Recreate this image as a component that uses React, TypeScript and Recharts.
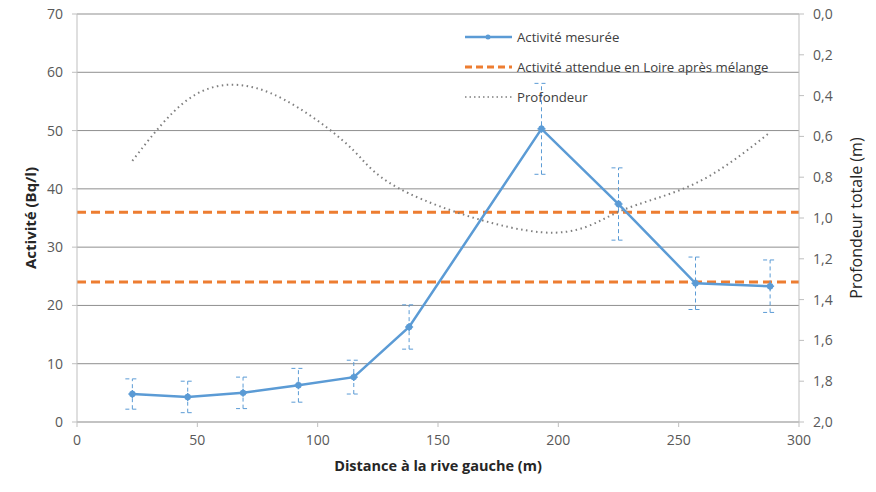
import { ComposedChart, Line, XAxis, YAxis, CartesianGrid, ReferenceLine, ErrorBar, Label } from "recharts";

const FONT = "'Open Sans', 'Noto Sans', sans-serif";

// distance from left bank (m)
const distances = [23, 46, 69, 92, 115, 138, 193, 225, 257, 288];
// measured activity (Bq/l) and its uncertainty
const activity = [4.8, 4.3, 5.0, 6.3, 7.7, 16.3, 50.3, 37.4, 23.8, 23.3];
const activityError = [2.6, 2.7, 2.7, 2.9, 2.9, 3.8, 7.8, 6.2, 4.5, 4.5];
// total depth (m)
const depth = [0.72, 0.42, 0.35, 0.46, 0.67, 0.88, 1.07, 0.97, 0.83, 0.58];
// expected activity in the Loire after mixing (Bq/l)
const expected = [36, 24];

const xTicks = [0, 50, 100, 150, 200, 250, 300];
const leftTicks = [0, 10, 20, 30, 40, 50, 60, 70];
const rightTicks = [0, 0.2, 0.4, 0.6, 0.8, 1.0, 1.2, 1.4, 1.6, 1.8, 2.0];

const rows = distances.map((d, i) => ({
  distance: d,
  activity: activity[i],
  err: activityError[i],
  depth: depth[i],
}));

const BLUE = "#5B9BD5";
const ORANGE = "#ED7D31";
const GREY = "#7F7F7F";

const tickStyle = { fontSize: 14, fill: "#595959", fontFamily: FONT };

const Marker = (props: any) => {
  const { cx, cy } = props;
  if (cx == null || cy == null) return null;
  return (
    <g>
      <circle cx={cx} cy={cy} r={3.2} fill={BLUE} />
      <line x1={cx - 4} x2={cx + 4} y1={cy} y2={cy} stroke={BLUE} strokeWidth={1.5} />
      <line x1={cx} x2={cx} y1={cy - 4} y2={cy + 4} stroke={BLUE} strokeWidth={1.5} />
    </g>
  );
};

const legendItems = [
  { label: "Activité mesurée", color: BLUE, dash: undefined, width: 2.5 },
  { label: "Activité attendue en Loire après mélange", color: ORANGE, dash: "7 4", width: 3 },
  { label: "Profondeur", color: GREY, dash: "1.5 3", width: 1.5 },
];

export default function App() {
  return (
    <div style={{ position: "absolute", left: 0, top: 0, width: 876, height: 492, background: "#fff" }}>
      <ComposedChart
        width={876}
        height={492}
        data={rows}
        margin={{ top: 14, right: 0, bottom: 0, left: 0 }}
      >
        <CartesianGrid vertical={false} stroke="#8f8f8f" yAxisId="left" />
        <XAxis
          dataKey="distance"
          type="number"
          domain={[0, 300]}
          ticks={xTicks}
          height={70}
          tick={tickStyle}
          tickLine={{ stroke: "#bfbfbf" }}
          axisLine={{ stroke: "#bfbfbf" }}
          tickSize={5}
          tickMargin={8}
        >
          <Label
            value="Distance à la rive gauche (m)"
            position="center"
            dy={9}
            style={{ fontSize: 14.5, fontWeight: 700, fill: "#262626", fontFamily: FONT }}
          />
        </XAxis>
        <YAxis
          yAxisId="left"
          domain={[0, 70]}
          ticks={leftTicks}
          width={77}
          tick={tickStyle}
          tickLine={{ stroke: "#bfbfbf" }}
          axisLine={{ stroke: "#bfbfbf" }}
          tickSize={5}
          tickMargin={9}
        >
          <Label
            value="Activité (Bq/l)"
            angle={-90}
            position="center"
            dx={-8}
            style={{ fontSize: 15, fontWeight: 700, fill: "#262626", fontFamily: FONT, textAnchor: "middle" }}
          />
        </YAxis>
        <YAxis
          yAxisId="right"
          orientation="right"
          domain={[0, 2]}
          reversed
          ticks={rightTicks}
          width={77}
          tick={tickStyle}
          tickFormatter={(v: number) => v.toFixed(1).replace(".", ",")}
          tickLine={{ stroke: "#bfbfbf" }}
          axisLine={{ stroke: "#bfbfbf" }}
          tickSize={5}
          tickMargin={9}
        >
          <Label
            value="Profondeur totale (m)"
            angle={-90}
            position="center"
            dx={19}
            style={{ fontSize: 16, fill: "#262626", fontFamily: FONT, textAnchor: "middle" }}
          />
        </YAxis>
        {expected.map((v) => (
          <ReferenceLine
            key={v}
            yAxisId="left"
            y={v}
            stroke={ORANGE}
            strokeWidth={3}
            strokeDasharray="9 5"
          />
        ))}
        <Line
          yAxisId="right"
          dataKey="depth"
          type="natural"
          stroke={GREY}
          strokeWidth={2}
          strokeDasharray="1.5 3.5"
          dot={false}
          isAnimationActive={false}
        />
        <Line
          yAxisId="left"
          dataKey="activity"
          type="linear"
          stroke={BLUE}
          strokeWidth={2.5}
          dot={<Marker />}
          activeDot={false}
          isAnimationActive={false}
        >
          <ErrorBar
            dataKey="err"
            direction="y"
            width={7}
            stroke={BLUE}
            strokeWidth={1}
            strokeDasharray="4 3"
          />
        </Line>
      </ComposedChart>
      <div
        style={{
          position: "absolute",
          left: 463,
          top: 22,
          fontFamily: FONT,
          fontSize: 13.2,
          color: "#404040",
        }}
      >
        {legendItems.map((it) => (
          <div key={it.label} style={{ display: "flex", alignItems: "center", height: 30 }}>
            <svg width={52} height={10} style={{ marginRight: 2 }}>
              <line
                x1={2}
                x2={49}
                y1={5}
                y2={5}
                stroke={it.color}
                strokeWidth={it.width}
                strokeDasharray={it.dash}
              />
              {it.dash === undefined && <circle cx={25} cy={5} r={2.5} fill={it.color} />}
            </svg>
            <span>{it.label}</span>
          </div>
        ))}
      </div>
    </div>
  );
}
